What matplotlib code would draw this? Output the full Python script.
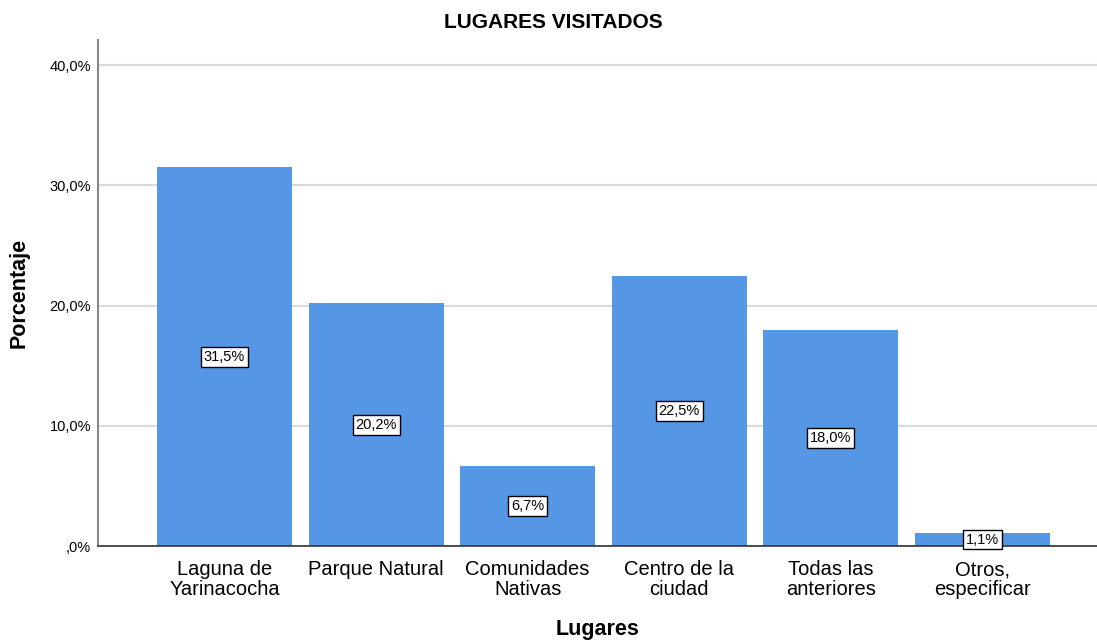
import matplotlib.pyplot as plt
import numpy as np

plt.rcParams['font.family'] = ['Liberation Sans', 'DejaVu Sans']

# Data
lugares = ["Laguna de\nYarinacocha", "Parque Natural", "Comunidades\nNativas",
           "Centro de la\nciudad", "Todas las\nanteriores", "Otros,\nespecificar"]
porcentaje = [31.5, 20.2, 6.7, 22.5, 18.0, 1.1]
y_ticks = [0, 10, 20, 30, 40]
y_tick_labels = [",0%", "10,0%", "20,0%", "30,0%", "40,0%"]

fig = plt.figure(figsize=(10.97, 6.41), dpi=100)
ax = fig.add_axes([0.0893, 0.148, 0.9107, 0.7894])

x = np.arange(len(lugares))
ax.bar(x, porcentaje, width=0.89, color="#5596e5", zorder=2)

for xi, v in zip(x, porcentaje):
    ax.text(xi, v / 2, f"{v:.1f}%".replace(".", ","), ha="center", va="center",
            fontsize=10.5, zorder=3,
            bbox=dict(boxstyle="square,pad=0.2", fc="white", ec="black", lw=1))

ax.set_xlim(-0.835, 5.756)
ax.set_ylim(0, 42.08)
ax.set_yticks(y_ticks)
ax.set_yticklabels(y_tick_labels, fontsize=10.5)
ax.set_xticks(x)
ax.set_xticklabels(lugares, fontsize=14.5, linespacing=1.08)
ax.tick_params(axis="x", length=0, pad=10)
ax.tick_params(axis="y", length=0, pad=5)
ax.yaxis.grid(True, color="#d9d9d9", lw=1.5, zorder=0)
ax.set_axisbelow(True)

for s in ["top", "right"]:
    ax.spines[s].set_visible(False)
ax.spines["left"].set_color("#888888")
ax.spines["left"].set_linewidth(1.5)
ax.spines["bottom"].set_color("#333333")
ax.spines["bottom"].set_linewidth(1.2)

fig.text(0.504, 0.965, "LUGARES VISITADOS", fontsize=15, fontweight="bold",
         ha="center", va="center")
ax.set_xlabel("Lugares", fontsize=15.5, fontweight="bold", labelpad=14)
ax.set_ylabel("Porcentaje", fontsize=15.5, fontweight="bold", labelpad=14)

fig.savefig("out.png", dpi=100)
